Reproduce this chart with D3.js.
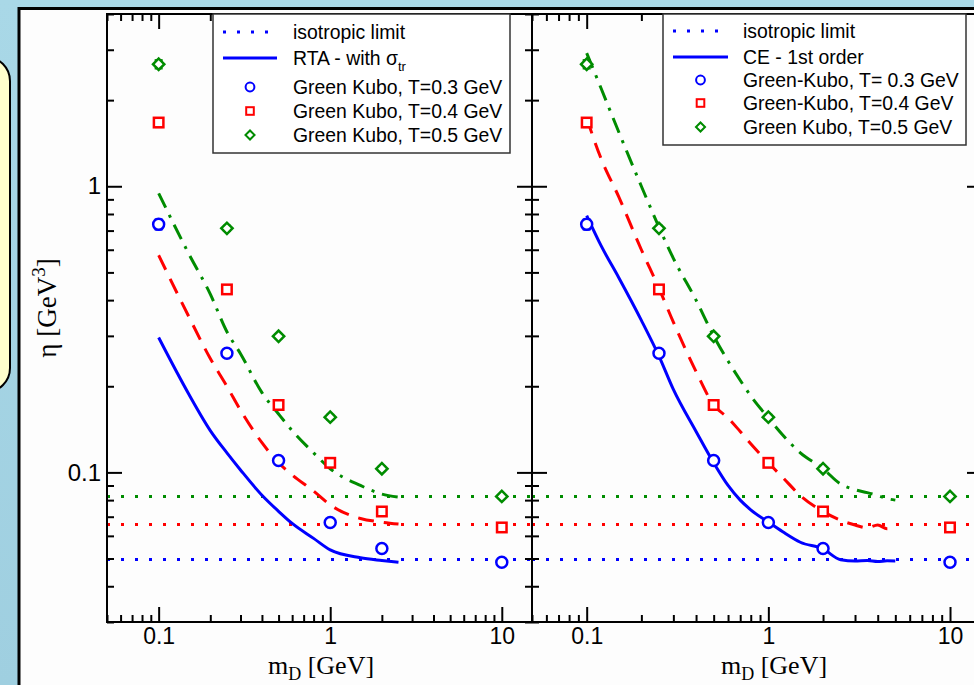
<!DOCTYPE html>
<html>
<head>
<meta charset="utf-8">
<script src="https://cdn.jsdelivr.net/npm/d3@7"></script>
<style>
  html, body { margin: 0; padding: 0; background: #a3d3e3; }
  svg { display: block; }
</style>
</head>
<body>
<svg id="chart" width="974" height="685"></svg>
<script>
// ---------------- DATA ----------------
const mGK   = [0.1, 0.25, 0.5, 1, 2, 10];
const gk03  = [0.736, 0.261, 0.110, 0.0668, 0.0542, 0.0485];
const gk04  = [1.67, 0.436, 0.172, 0.108, 0.073, 0.0642];
const gk05  = [2.67, 0.713, 0.299, 0.156, 0.103, 0.0824];
const gk03Err = [0.03, 0.006, 0.002, 0.001, 0.001, 0.001];
const gk04Err = [0.06, 0.010, 0.004, 0.002, 0.001, 0.001];
const gk05Err = [0.09, 0.015, 0.005, 0.003, 0.002, 0.001];

const isoLimit = [0.0496, 0.0658, 0.0824];   // T = 0.3, 0.4, 0.5 GeV

const mRTA  = [0.1, 0.15, 0.2, 0.25, 0.3, 0.4, 0.5, 0.6, 0.8, 1.0, 1.5, 2.0, 2.5];
const rta03 = [0.296, 0.1875, 0.140, 0.117, 0.102, 0.0832, 0.0731, 0.0663, 0.0588, 0.0536, 0.0503, 0.0492, 0.0485];
const rta04 = [0.574, 0.350, 0.250, 0.200, 0.165, 0.127, 0.108, 0.098, 0.086, 0.077, 0.069, 0.067, 0.066];
const rta05 = [0.945, 0.580, 0.420, 0.310, 0.260, 0.190, 0.160, 0.140, 0.117, 0.103, 0.090, 0.084, 0.082];

const mCE  = [0.1, 0.12, 0.15, 0.2, 0.25, 0.3, 0.4, 0.5, 0.6, 0.7, 0.8, 1.0, 1.2, 1.5, 2.0, 2.5, 3.0, 3.5, 4.0, 4.5, 5.0];
const ce03 = [0.79, 0.62, 0.48, 0.34, 0.255, 0.195, 0.139, 0.108, 0.090, 0.080, 0.074, 0.067, 0.062, 0.057, 0.054, 0.0495, 0.049, 0.0492, 0.0488, 0.0491, 0.049];
const ce04 = [1.73, 1.25, 0.92, 0.60, 0.44, 0.335, 0.225, 0.172, 0.155, 0.139, 0.126, 0.108, 0.096, 0.083, 0.073, 0.068, 0.0655, 0.064, 0.0655, 0.0635, 0.064];
const ce05 = [2.92, 2.2, 1.55, 1.0, 0.72, 0.56, 0.40, 0.30, 0.245, 0.21, 0.185, 0.155, 0.135, 0.117, 0.103, 0.091, 0.087, 0.085, 0.083, 0.081, 0.080];

const xMajor = [0.1, 1, 10];
const xMinor = [0.05,0.06,0.07,0.08,0.09,0.2,0.3,0.4,0.5,0.6,0.7,0.8,0.9,2,3,4,5,6,7,8,9];
const yMajor = [0.1, 1];
const yMinor = [0.03,0.04,0.05,0.06,0.07,0.08,0.09,0.2,0.3,0.4,0.5,0.6,0.7,0.8,0.9,2,3,4];

const colors = ["#0000ff", "#ff0000", "#008c00"];

const legendLeft  = ["isotropic limit", "RTA - with σ", "Green Kubo, T=0.3 GeV", "Green Kubo, T=0.4 GeV", "Green Kubo, T=0.5 GeV"];
const legendRight = ["isotropic limit", "CE - 1st order", "Green-Kubo, T= 0.3 GeV", "Green-Kubo, T=0.4 GeV", "Green Kubo, T=0.5 GeV"];

// ---------------- DRAW ----------------
const svg = d3.select("#chart");
const SANS = "'Liberation Sans', Arial, Helvetica, sans-serif";
const SERIF = "'Liberation Serif', 'Times New Roman', serif";

const defs = svg.append("defs");
const bg = defs.append("linearGradient").attr("id","bg").attr("x1",0).attr("y1",0).attr("x2",0).attr("y2",1);
bg.append("stop").attr("offset","0%").attr("stop-color","#a9d8e7");
bg.append("stop").attr("offset","100%").attr("stop-color","#9fcfe0");
svg.append("rect").attr("width",974).attr("height",685).attr("fill","url(#bg)");

// yellow note box on the left (partly hidden)
svg.append("rect").attr("x",-40).attr("y",57).attr("width",50).attr("height",335).attr("rx",24)
  .attr("fill","#ffffcc").attr("stroke","#000").attr("stroke-width",2);

// white picture frame
svg.append("rect").attr("x",19).attr("y",8.5).attr("width",1000).attr("height",700)
  .attr("fill","#fdfdfd").attr("stroke","#000").attr("stroke-width",3);

const yTop = 14, yBot = 622;
const y = d3.scaleLog().domain([0.03, 4]).range([yBot, yTop]);

const panels = [
  { x0: 107, x1: 532, curveM: mRTA, curves: [rta03, rta04, rta05], leftLabels: true },
  { x0: 532, x1: 982, curveM: mCE,  curves: [ce03, ce04, ce05],   leftLabels: false }
];
const dashes = [null, "16,10", "16,8,3,8"];
const gkVals = [gk03, gk04, gk05];
const gkErrs = [gk03Err, gk04Err, gk05Err];

function marker(g, k, size, sw) {
  if (k === 0) {
    g.append("circle").attr("r", size*0.55).attr("fill","#fff").attr("stroke",colors[0]).attr("stroke-width",sw);
  } else if (k === 1) {
    const s = size*0.95;
    g.append("rect").attr("x",-s/2).attr("y",-s/2).attr("width",s).attr("height",s)
      .attr("fill","#fff").attr("stroke",colors[1]).attr("stroke-width",sw);
  } else {
    const s = size*0.8;
    g.append("rect").attr("x",-s/2).attr("y",-s/2).attr("width",s).attr("height",s)
      .attr("transform","rotate(45)")
      .attr("fill","#fff").attr("stroke",colors[2]).attr("stroke-width",sw);
  }
}

panels.forEach((p, pi) => {
  const x = d3.scaleLog().domain([0.05, 15]).range([p.x0, p.x1]);
  const g = svg.append("g");
  const clipId = "clip" + pi;
  defs.append("clipPath").attr("id", clipId)
    .append("rect").attr("x", p.x0).attr("y", yTop).attr("width", p.x1 - p.x0).attr("height", yBot - yTop);
  const plot = g.append("g").attr("clip-path", `url(#${clipId})`);

  // isotropic limits (dotted)
  isoLimit.forEach((v, k) => {
    plot.append("path")
      .attr("d", d3.line()(x.domain().map(m => [x(m), y(v)])))
      .attr("stroke", colors[k]).attr("stroke-width", 3).attr("stroke-dasharray", "3,11")
      .attr("fill", "none");
  });

  // theory curves
  const line = d3.line().x(d => x(d[0])).y(d => y(d[1])).curve(d3.curveMonotoneX);
  p.curves.forEach((vals, k) => {
    plot.append("path")
      .datum(p.curveM.map((m, i) => [m, vals[i]]))
      .attr("d", line)
      .attr("stroke", colors[k]).attr("stroke-width", 3)
      .attr("stroke-dasharray", dashes[k])
      .attr("fill", "none");
  });

  // Green-Kubo points
  gkVals.forEach((vals, k) => {
    mGK.forEach((m, i) => {
      const e = gkErrs[k][i];
      const px = x(m);
      plot.append("line").attr("x1", px).attr("x2", px)
        .attr("y1", y(vals[i] - e)).attr("y2", y(vals[i] + e))
        .attr("stroke", colors[k]).attr("stroke-width", 2);
      [vals[i]-e, vals[i]+e].forEach(v => {
        plot.append("line").attr("x1", px-4).attr("x2", px+4).attr("y1", y(v)).attr("y2", y(v))
          .attr("stroke", colors[k]).attr("stroke-width", 2);
      });
      const mg = plot.append("g").attr("transform", `translate(${px},${y(vals[i])})`);
      marker(mg, k, 10, 2.5);
    });
  });

  const axStyle = sel => {
    sel.select(".domain").remove();
    sel.selectAll(".tick line").attr("stroke", "#000").attr("stroke-width", 2);
    sel.selectAll(".tick text").attr("font-family", SANS).attr("font-size", 23).attr("fill", "#000");
  };
  // bottom
  g.append("g").attr("transform", `translate(0,${yBot})`)
    .call(d3.axisBottom(x).tickValues(xMajor).tickSize(-15).tickPadding(6).tickFormat(d3.format("~g")))
    .call(axStyle);
  g.append("g").attr("transform", `translate(0,${yBot})`)
    .call(d3.axisBottom(x).tickValues(xMinor).tickSize(-7).tickFormat(""))
    .call(axStyle);
  // top
  g.append("g").attr("transform", `translate(0,${yTop})`)
    .call(d3.axisTop(x).tickValues(xMajor).tickSize(-15).tickFormat(""))
    .call(axStyle);
  g.append("g").attr("transform", `translate(0,${yTop})`)
    .call(d3.axisTop(x).tickValues(xMinor).tickSize(-7).tickFormat(""))
    .call(axStyle);
  // left
  g.append("g").attr("transform", `translate(${p.x0},0)`)
    .call(d3.axisLeft(y).tickValues(yMajor).tickSize(-15).tickPadding(6)
      .tickFormat(p.leftLabels ? d3.format("~g") : ""))
    .call(axStyle)
    .call(s => s.selectAll(".tick text").attr("font-size", 24));
  g.append("g").attr("transform", `translate(${p.x0},0)`)
    .call(d3.axisLeft(y).tickValues(yMinor).tickSize(-7).tickFormat(""))
    .call(axStyle);
  // right
  g.append("g").attr("transform", `translate(${p.x1},0)`)
    .call(d3.axisRight(y).tickValues(yMajor).tickSize(-15).tickFormat(""))
    .call(axStyle);
  g.append("g").attr("transform", `translate(${p.x1},0)`)
    .call(d3.axisRight(y).tickValues(yMinor).tickSize(-7).tickFormat(""))
    .call(axStyle);

  // frame
  g.append("rect").attr("x", p.x0).attr("y", yTop).attr("width", p.x1 - p.x0).attr("height", yBot - yTop)
    .attr("fill", "none").attr("stroke", "#000").attr("stroke-width", 2);

  // x-axis title
  const xt = g.append("text").attr("x", pi === 0 ? 321 : 774).attr("y", 674)
    .attr("text-anchor", "middle").attr("font-family", SERIF).attr("font-size", 26).attr("fill", "#000");
  xt.append("tspan").text("m");
  xt.append("tspan").attr("font-size", 18).attr("dy", 6).text("D");
  xt.append("tspan").attr("dy", -6).text(" [GeV]");
});

// y-axis title
const yt = svg.append("text").attr("transform", "translate(56,308) rotate(-90)")
  .attr("text-anchor", "middle").attr("font-family", SERIF).attr("font-size", 27).attr("fill", "#000");
yt.append("tspan").text("η [GeV");
yt.append("tspan").attr("font-size", 19).attr("dy", -11).text("3");
yt.append("tspan").attr("dy", 11).text("]");

// legends
function legend(lx, ly, w, h, rows, labels, lineX0, lineX1, textX, sub) {
  const lg = svg.append("g");
  lg.append("rect").attr("x", lx).attr("y", ly).attr("width", w).attr("height", h)
    .attr("fill", "#fff").attr("stroke", "#333").attr("stroke-width", 1.5);
  const mid = (lineX0 + lineX1) / 2;
  labels.forEach((lab, i) => {
    const ry = rows[i];
    if (i === 0) {
      lg.append("line").attr("x1", lineX0).attr("x2", lineX1).attr("y1", ry).attr("y2", ry)
        .attr("stroke", colors[0]).attr("stroke-width", 3).attr("stroke-dasharray", "3,11");
    } else if (i === 1) {
      lg.append("line").attr("x1", lineX0).attr("x2", lineX1).attr("y1", ry).attr("y2", ry)
        .attr("stroke", colors[0]).attr("stroke-width", 3);
    } else {
      const mg = lg.append("g").attr("transform", `translate(${mid},${ry})`);
      marker(mg, i - 2, 8, 2);
    }
    const t = lg.append("text").attr("x", textX).attr("y", ry + 7)
      .attr("font-family", SANS).attr("font-size", 19.4).attr("fill", "#000").text(lab);
    if (sub && i === 1) {
      t.append("tspan").attr("font-size", 13).attr("dy", 6).text("tr");
    }
  });
}
legend(213, 14, 297, 139, [32, 58, 87, 111, 135], legendLeft, 223, 277, 293, true);
legend(663, 14, 303, 131, [31, 57, 80, 103, 127], legendRight, 673, 728, 743, false);
</script>
</body>
</html>
